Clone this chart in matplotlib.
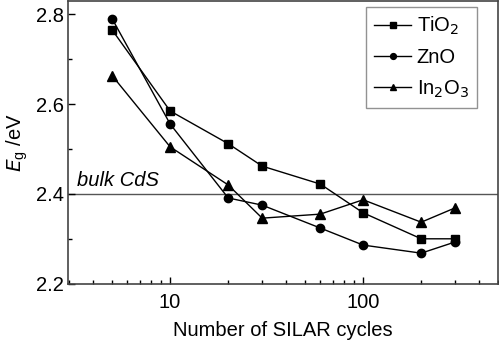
import matplotlib
matplotlib.use("Agg")
import matplotlib.pyplot as plt
from matplotlib.ticker import LogLocator, FixedLocator, NullFormatter, FixedFormatter

plt.rcParams['font.family'] = ['Liberation Sans', 'DejaVu Sans']

cycles = [5, 10, 20, 30, 60, 100, 200, 300]
tio2 = [2.766, 2.585, 2.512, 2.462, 2.422, 2.358, 2.300, 2.300]
zno = [2.791, 2.556, 2.391, 2.375, 2.324, 2.286, 2.268, 2.293]
in2o3 = [2.664, 2.505, 2.420, 2.346, 2.355, 2.387, 2.337, 2.369]
bulk_cds = 2.4

fig = plt.figure(figsize=(4.99, 3.43), dpi=100)
ax = fig.add_axes([0.137, 0.173, 0.861, 0.824])

ax.axhline(bulk_cds, color='#555555', lw=1.0, zorder=1)
ax.text(3.3, bulk_cds + 0.008, 'bulk CdS', style='italic', fontsize=14.5, va='bottom', ha='left')

ax.plot(cycles, tio2, '-s', color='black', lw=1.0, ms=6, label='TiO$_2$')
ax.plot(cycles, zno, '-o', color='black', lw=1.0, ms=6, label='ZnO')
ax.plot(cycles, in2o3, '-^', color='black', lw=1.0, ms=6.5, label='In$_2$O$_3$')

ax.set_xscale('log')
ax.set_xlim(2.97, 500)
ax.set_ylim(2.2, 2.83)
ax.xaxis.set_major_locator(FixedLocator([10, 100]))
ax.xaxis.set_major_formatter(FixedFormatter(['10', '100']))
ax.xaxis.set_minor_locator(LogLocator(base=10, subs=range(2, 10)))
ax.xaxis.set_minor_formatter(NullFormatter())
ax.set_yticks([2.2, 2.4, 2.6, 2.8])
ax.set_yticks([2.3, 2.5, 2.7], minor=True)

ax.tick_params(which='both', direction='in', top=False, right=False, labelsize=14.5, colors='black')
ax.tick_params(which='major', length=5, width=1)
ax.tick_params(which='minor', length=3, width=1)
ax.tick_params(axis='x', pad=7)
for s in ax.spines.values():
    s.set_color('#444444')
    s.set_linewidth(1.2)

ax.set_xlabel('Number of SILAR cycles', fontsize=14.5, labelpad=6)
ax.set_ylabel('$E$$_\\mathregular{g}$ /eV', fontsize=14.5, labelpad=4)

leg = ax.legend(loc='upper right', bbox_to_anchor=(0.951, 0.979), borderaxespad=0, fontsize=14.5,
                frameon=True, fancybox=False, edgecolor='#777777', handlelength=1.8, handletextpad=0.3,
                borderpad=0.4, labelspacing=0.55, markerscale=0.7)
leg.get_frame().set_linewidth(1.0)

fig.savefig('out.png', dpi=100)
